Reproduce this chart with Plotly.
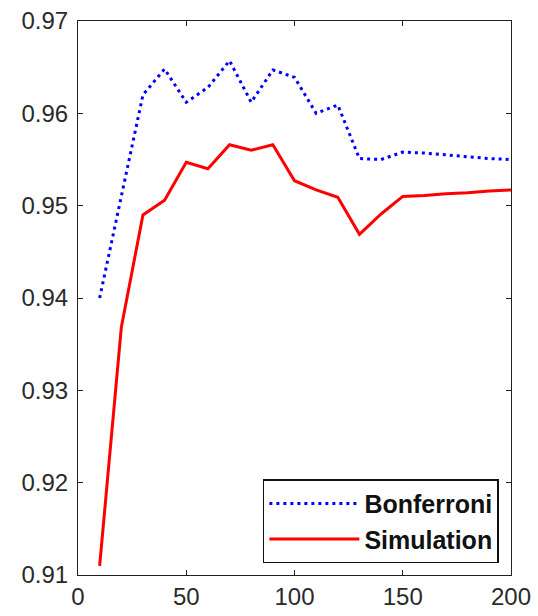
import plotly.graph_objects as go

x_vals = [10, 20, 30, 40, 50, 60, 70, 80, 90, 100, 110, 120, 130, 140, 150, 160, 170, 180, 190, 200]
bonferroni = [0.940, 0.951, 0.962, 0.9648, 0.9612, 0.9628, 0.9657, 0.9612, 0.9647, 0.9639,
              0.9600, 0.9609, 0.9551, 0.9550, 0.9558, 0.9557, 0.9555, 0.9553, 0.9551, 0.9550]
simulation = [0.9110, 0.9368, 0.9490, 0.9506, 0.9547, 0.9540, 0.9566, 0.9560, 0.9566, 0.9527,
              0.9517, 0.9509, 0.9469, 0.9491, 0.9510, 0.9511, 0.9513, 0.9514, 0.9516, 0.9517]
series_names = ["Bonferroni", "Simulation"]
x_ticks = [0, 50, 100, 150, 200]
y_ticks = [0.91, 0.92, 0.93, 0.94, 0.95, 0.96, 0.97]

FONT = "Arial, Liberation Sans, sans-serif"

fig = go.Figure()
fig.add_trace(go.Scatter(x=x_vals, y=bonferroni, mode="lines", name=series_names[0],
                         line=dict(color="#0000ff", width=3, dash="3px,4px")))
fig.add_trace(go.Scatter(x=x_vals, y=simulation, mode="lines", name=series_names[1],
                         line=dict(color="#ff0000", width=3)))

axis_common = dict(showgrid=False, zeroline=False, showline=True, linecolor="#222222",
                   linewidth=1, mirror="ticks", ticks="inside", ticklen=5,
                   tickcolor="#222222", tickwidth=1, automargin=False,
                   tickfont=dict(family=FONT, size=24, color="#2a2a2a"))

fig.update_xaxes(range=[0, 200], tickmode="array", tickvals=x_ticks,
                 ticktext=[str(v) for v in x_ticks], **axis_common)
fig.update_yaxes(range=[0.91, 0.97], tickmode="array", tickvals=y_ticks,
                 ticktext=[f"{v:.2f}" for v in y_ticks], ticklabelstandoff=4, **axis_common)

fig.update_layout(
    width=538, height=616,
    margin=dict(l=78, r=27, t=21, b=41),
    paper_bgcolor="white", plot_bgcolor="white",
    showlegend=True,
    legend=dict(x=0.972, y=0.021, xanchor="right", yanchor="bottom",
                bgcolor="white", bordercolor="#111111", borderwidth=1.5,
                font=dict(family=FONT, size=25, color="#111111", weight="bold"),
                itemwidth=90, tracegroupgap=0),
)

fig.write_html("out.html")
